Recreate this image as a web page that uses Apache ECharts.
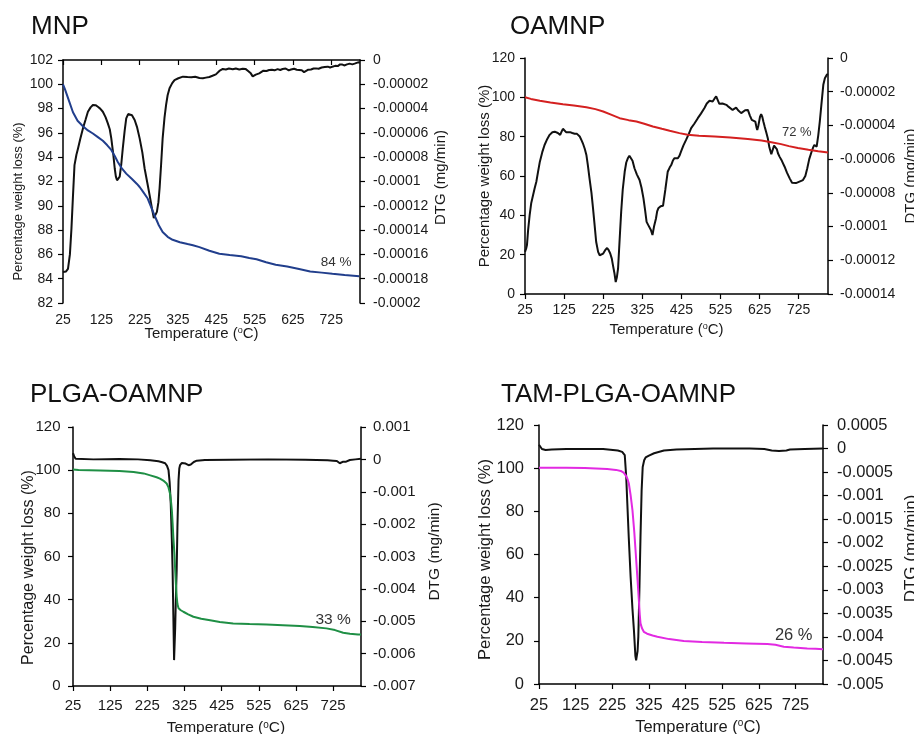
<!DOCTYPE html>
<html>
<head>
<meta charset="utf-8">
<title>TGA / DTG curves</title>
<script src="https://cdn.jsdelivr.net/npm/echarts@6/dist/echarts.min.js"></script>
<style>
  html, body { margin: 0; padding: 0; background: #ffffff; }
  #chart { width: 914px; height: 734px; }
</style>
</head>
<body>
<div id="chart"></div>
<script>
// ---------- MNP ----------
const mnpWtT = [25, 30, 40, 51, 63, 77, 90, 103, 116, 129, 140, 151, 160, 168, 178, 190, 205, 218, 225, 235, 246, 255, 264, 275, 285, 298, 311, 330, 350, 364, 381, 407, 433, 460, 490, 511, 530, 555, 580, 610, 641, 670, 700, 728, 760, 798];
const mnpWt = [100.0, 99.6, 98.7, 97.7, 97.0, 96.55, 96.2, 95.95, 95.65, 95.35, 95.0, 94.6, 94.1, 93.6, 93.1, 92.65, 92.2, 91.8, 91.55, 91.1, 90.6, 89.9, 89.2, 88.4, 87.85, 87.45, 87.2, 87.0, 86.85, 86.75, 86.6, 86.3, 86.06, 85.95, 85.85, 85.7, 85.6, 85.35, 85.15, 85.0, 84.8, 84.6, 84.5, 84.4, 84.3, 84.2];
const mnpDtgT = [25, 33, 38, 43, 47, 51, 55, 60, 64, 70, 77, 84, 90, 97, 103, 110, 116, 122, 129, 136, 142, 147, 151, 156, 160, 163, 166, 170, 173, 177, 181, 186, 190, 195, 199, 205, 212, 218, 225, 232, 238, 245, 251, 257, 262, 266, 270, 274, 277, 281, 285, 290, 294, 298, 303, 310, 316, 326, 338, 350, 360, 370, 381, 390, 398, 407, 415, 424, 433, 442, 450, 458, 468, 476, 485, 494, 502, 508, 515, 520, 524, 528, 532, 537, 541, 548, 556, 563, 570, 577, 585, 592, 598, 606, 614, 620, 628, 635, 641, 648, 654, 659, 665, 672, 679, 685, 692, 700, 708, 716, 722, 728, 735, 742, 748, 754, 760, 766, 773, 780, 786, 790, 795, 800];
const mnpDtg = [-0.0001745, -0.000174, -0.000172, -0.00016, -0.000139, -0.000112, -0.0000865, -0.000078, -0.000073, -0.000065, -0.0000563, -0.000049, -0.0000426, -0.000039, -0.0000371, -0.0000372, -0.0000385, -0.00004, -0.0000426, -0.000047, -0.0000522, -0.000057, -0.0000645, -0.000077, -0.0000893, -0.000096, -0.000099, -0.000098, -0.000096, -0.000086, -0.0000728, -0.000058, -0.000048, -0.0000445, -0.000044, -0.0000455, -0.0000494, -0.000055, -0.0000645, -0.000076, -0.0000893, -0.000101, -0.0001112, -0.000122, -0.00013, -0.000129, -0.000125, -0.000117, -0.0001057, -0.000086, -0.0000645, -0.000047, -0.000037, -0.000029, -0.0000233, -0.000019, -0.0000165, -0.000015, -0.0000137, -0.000014, -0.0000142, -0.0000138, -0.0000148, -0.000015, -0.0000145, -0.000014, -0.000013, -0.0000118, -0.000009, -0.0000074, -0.0000078, -0.000007, -0.0000076, -0.000007, -0.0000078, -0.0000072, -0.0000075, -0.000009, -0.000011, -0.0000135, -0.0000145, -0.000012, -0.0000135, -0.000011, -0.0000096, -0.0000088, -0.000009, -0.0000082, -0.000008, -0.0000085, -0.0000075, -0.0000082, -0.0000074, -0.000007, -0.0000085, -0.0000078, -0.0000072, -0.000008, -0.0000082, -0.0000085, -0.00001, -0.0000096, -0.000008, -0.0000078, -0.000007, -0.0000069, -0.0000072, -0.0000062, -0.0000058, -0.0000055, -0.0000062, -0.0000055, -0.0000048, -0.000005, -0.0000036, -0.0000038, -0.0000045, -0.0000036, -0.000003, -0.0000036, -0.000003, -0.0000022, -0.0000019, -0.000002];

// ---------- OAMNP ----------
const oaWtT = [25, 40, 63, 90, 122, 150, 182, 205, 225, 245, 267, 290, 310, 330, 352, 375, 395, 420, 441, 470, 510, 550, 595, 630, 655, 680, 700, 723, 750, 775, 800];
const oaWt = [100, 99.2, 98.3, 97.4, 96.5, 95.8, 95.0, 94.0, 92.8, 91.2, 89.4, 88.4, 87.7, 86.6, 85.2, 84.0, 83.0, 81.8, 81.0, 80.5, 80.1, 79.6, 78.8, 78.0, 77.2, 76.2, 75.2, 74.2, 73.3, 72.6, 72.0];
const oaDtgT = [25, 28, 30, 33, 37, 41, 46, 50, 54, 58, 63, 69, 75, 82, 88, 95, 101, 105, 109, 112, 115, 118, 122, 126, 130, 135, 140, 146, 152, 158, 165, 170, 173, 178, 182, 186, 190, 195, 199, 203, 207, 212, 216, 220, 225, 230, 235, 239, 243, 247, 250, 254, 257, 260, 263, 267, 271, 275, 280, 284, 288, 292, 295, 300, 305, 311, 318, 323, 328, 332, 336, 340, 343, 347, 351, 355, 360, 363, 366, 372, 378, 384, 390, 395, 399, 403, 407, 412, 416, 420, 424, 430, 437, 444, 450, 458, 467, 475, 484, 490, 497, 501, 505, 510, 514, 518, 522, 530, 540, 546, 550, 556, 560, 565, 570, 578, 583, 588, 595, 600, 605, 610, 614, 617, 619, 622, 626, 629, 632, 635, 638, 642, 646, 650, 655, 658, 662, 665, 669, 672, 676, 682, 689, 695, 702, 708, 713, 718, 723, 730, 736, 742, 747, 752, 758, 762, 765, 768, 771, 775, 779, 783, 788, 792, 797, 800];
const oaDtg = [-0.000115, -0.000113, -0.000111, -0.000102, -0.000093, -0.000086, -0.000081, -0.000077, -0.0000734, -0.000068, -0.0000615, -0.000056, -0.0000516, -0.000048, -0.0000456, -0.000044, -0.0000437, -0.000044, -0.0000445, -0.000045, -0.0000456, -0.000044, -0.000042, -0.0000428, -0.000044, -0.0000437, -0.000044, -0.0000445, -0.0000449, -0.000045, -0.0000466, -0.000049, -0.0000506, -0.000054, -0.0000575, -0.000064, -0.0000714, -0.00008, -0.0000892, -0.000099, -0.000109, -0.000115, -0.000117, -0.0001168, -0.000116, -0.000114, -0.0001127, -0.000114, -0.000116, -0.000119, -0.000123, -0.000128, -0.0001329, -0.00013, -0.000125, -0.000108, -0.0000913, -0.000078, -0.0000675, -0.000062, -0.0000595, -0.000058, -0.0000575, -0.000061, -0.0000654, -0.000069, -0.0000724, -0.000077, -0.0000833, -0.00009, -0.0000972, -0.000099, -0.0000992, -0.000102, -0.000105, -0.0001, -0.0000952, -0.000091, -0.0000892, -0.000088, -0.0000877, -0.000078, -0.0000675, -0.000065, -0.0000635, -0.000061, -0.0000595, -0.0000595, -0.0000595, -0.000058, -0.0000556, -0.000052, -0.0000486, -0.000045, -0.0000416, -0.000039, -0.0000357, -0.000033, -0.0000297, -0.000027, -0.0000254, -0.000025, -0.0000258, -0.000024, -0.0000228, -0.000025, -0.0000272, -0.000027, -0.0000278, -0.000029, -0.0000285, -0.0000308, -0.00003, -0.0000294, -0.000031, -0.0000327, -0.000032, -0.000031, -0.0000308, -0.000034, -0.0000367, -0.000036, -0.0000377, -0.000041, -0.0000427, -0.00004, -0.000035, -0.0000333, -0.000035, -0.000038, -0.0000407, -0.000044, -0.0000476, -0.000053, -0.0000571, -0.000056, -0.000052, -0.0000512, -0.000054, -0.0000565, -0.0000585, -0.000061, -0.0000645, -0.000068, -0.0000714, -0.000074, -0.000075, -0.0000742, -0.0000734, -0.000073, -0.0000724, -0.00007, -0.0000654, -0.00006, -0.0000556, -0.000053, -0.0000516, -0.000052, -0.0000526, -0.000046, -0.0000377, -0.000028, -0.0000159, -0.000012, -0.0000099, -0.0000095];

// ---------- PLGA-OAMNP ----------
const plWtT = [25, 40, 98, 150, 188, 215, 233, 250, 259, 268, 277, 282, 286, 289, 291, 293, 295, 298, 300, 302, 304, 306, 309, 315, 322, 335, 349, 370, 394, 420, 456, 500, 546, 590, 635, 670, 707, 730, 752, 770, 792, 800];
const plWt = [100.3, 100.1, 99.9, 99.6, 99.2, 98.5, 97.6, 96.7, 96.1, 95.2, 93.8, 92.0, 89.2, 85.0, 81.4, 75.5, 69.0, 61.0, 53.7, 47.0, 41.3, 38.0, 36.0, 35.1, 34.4, 33.2, 32.1, 31.2, 30.5, 29.7, 29.0, 28.7, 28.5, 28.2, 27.8, 27.3, 26.7, 25.9, 24.7, 24.2, 23.9, 23.9];
const plDtgT = [25, 28, 32, 36, 80, 150, 200, 233, 255, 265, 273, 278, 282, 285, 288, 291, 293, 295, 297, 298, 300, 302, 304, 306, 309, 311, 313, 318, 322, 328, 336, 342, 350, 358, 380, 450, 550, 650, 710, 725, 735, 740, 743, 747, 752, 756, 760, 770, 785, 800];
const plDtg = [0.00019, 0.0001, 0.00002, 0, 0, 0.00001, 0, -0.00003, -0.00006, -0.00009, -0.00012, -0.0002, -0.00033, -0.0007, -0.00136, -0.0025, -0.00342, -0.0048, -0.0062, -0.0062, -0.0052, -0.0042, -0.00342, -0.0021, -0.00064, -0.00028, -0.00018, -0.00011, -0.0001, -0.00013, -0.00018, -0.00016, -0.00008, -0.00004, -0.00002, -0.00001, 0, -0.00001, -0.00003, -0.00004, -0.00005, -0.00008, -0.00012, -0.00009, -0.00007, -0.00011, -0.00007, -0.00002, 0, 0.00002];

// ---------- TAM-PLGA-OAMNP ----------
const tamWtT = [25, 100, 150, 211, 235, 248, 256, 261, 266, 270, 275, 280, 285, 289, 294, 298, 300, 302, 306, 311, 320, 335, 348, 380, 420, 470, 530, 590, 648, 670, 693, 720, 757, 780, 800];
const tamWt = [100.2, 100.2, 100.1, 99.6, 99.2, 98.7, 97.9, 96.8, 95.2, 93.0, 87.5, 80.6, 70.5, 60.6, 48.0, 37.4, 32.0, 28.1, 25.8, 24.2, 23.3, 22.5, 21.9, 20.8, 19.9, 19.5, 19.1, 18.8, 18.5, 18.2, 17.3, 16.9, 16.5, 16.3, 16.1];
const tamDtgT = [25, 28, 33, 43, 60, 100, 200, 240, 252, 259, 263, 266, 270, 275, 280, 284, 288, 290, 292, 294, 296, 299, 302, 305, 308, 312, 316, 325, 339, 366, 400, 500, 600, 640, 660, 680, 700, 710, 750, 800];
const tamDtg = [0.00008, 0.00004, -0.00001, -0.00003, -0.00002, -0.00001, -0.00001, -0.00004, -0.00007, -0.00014, -0.0006, -0.00116, -0.0019, -0.00272, -0.0034, -0.00385, -0.0044, -0.0045, -0.0045, -0.0043, -0.004, -0.003, -0.00187, -0.0009, -0.00039, -0.00025, -0.00019, -0.00015, -0.0001, -0.00004, -0.00002, 0, 0, -0.00001, -0.00004, -0.00005, -0.00004, -0.00002, -0.00001, 0];

// Panel titles, residue annotations, axis ranges
const panelTitles = ['MNP', 'OAMNP', 'PLGA-OAMNP', 'TAM-PLGA-OAMNP'];
const residueText = ['84 %', '72 %', '33 %', '26 %'];
const residueAt = [[738, 85.35], [720, 82.2], [725, 30.9], [720, 22.7]];
const wtRange = [[82, 102, 2], [0, 120, 20], [0, 120, 20], [0, 120, 20]];
const dtgRange = [[-0.0002, 0, 0.00002], [-0.00014, 0, 0.00002], [-0.007, 0.001, 0.001], [-0.005, 0.0005, 0.0005]];
const tempRange = [25, 800, 100];

const FONT = '"Liberation Sans", Arial, sans-serif';
const INK = '#1a1a1a';

// Per-panel layout
const panels = [
  { grid: { left: 63, top: 60, width: 297, height: 243 }, color: '#213e8c',
    tick: 14, leftName: 13, rightName: 15, xName: 15, note: 13.5,
    xMargin: 10, xGap: 23, lMargin: 10, lGap: 38, rMargin: 13, rGap: 73,
    lShift: 20, rShift: -4, xShift: -10, title: [31, 14] },
  { grid: { left: 525, top: 58, width: 303, height: 236 }, color: '#d42020',
    tick: 14, leftName: 15, rightName: 15, xName: 15, note: 13,
    xMargin: 9, xGap: 28.5, lMargin: 10, lGap: 33, rMargin: 12, rGap: 75.5,
    lShift: 0, rShift: 0, xShift: -10, title: [510, 14] },
  { grid: { left: 73, top: 427, width: 288, height: 259 }, color: '#1f8f45',
    tick: 15, leftName: 16, rightName: 15.5, xName: 15.5, note: 15.5,
    xMargin: 12, xGap: 34, lMargin: 12.5, lGap: 36, rMargin: 12, rGap: 65.5,
    lShift: 11, rShift: -5, xShift: 9, title: [30, 382] },
  { grid: { left: 539, top: 425, width: 284, height: 259 }, color: '#e22ae2',
    tick: 16.5, leftName: 16.5, rightName: 17, xName: 16.5, note: 16.5,
    xMargin: 13, xGap: 34.5, lMargin: 15, lGap: 45, rMargin: 14, rGap: 80,
    lShift: 5, rShift: -6, xShift: 17, title: [501, 382] }
];

const weightSets = [[mnpWtT, mnpWt], [oaWtT, oaWt], [plWtT, plWt], [tamWtT, tamWt]];
const dtgSets = [[mnpDtgT, mnpDtg], [oaDtgT, oaDtg], [plDtgT, plDtg], [tamDtgT, tamDtg]];

function pairs(xs, ys) { return xs.map((x, i) => [x, ys[i]]); }
function tidy(v) { return String(parseFloat(Number(v).toPrecision(6))); }

// Shifting a centred label along its baseline by padding one side
function shiftPad(d) { return d >= 0 ? [0, 0, 0, 2 * d] : [0, -2 * d, 0, 0]; }

const axisLine = { show: true, lineStyle: { color: '#000', width: 1.5 } };
const axisTick = { show: true, inside: false, length: 5, lineStyle: { color: '#000', width: 1.2 } };

const option = {
  animation: false,
  backgroundColor: '#ffffff',
  textStyle: { fontFamily: FONT },
  title: panels.map((p, i) => ({
    text: panelTitles[i], left: p.title[0], top: p.title[1], padding: 0,
    textStyle: { fontFamily: FONT, fontSize: 26, fontWeight: 'normal', color: '#111' }
  })),
  // fixed plot rectangles; names near the page edge may run off it
  grid: panels.map(p => Object.assign({ containLabel: false, outerBoundsMode: 'none' }, p.grid)),
  xAxis: panels.map((p, i) => ({
    gridIndex: i, type: 'value', min: tempRange[0], max: tempRange[1], interval: tempRange[2],
    axisLine, axisTick, splitLine: { show: false },
    axisLabel: { fontSize: p.tick, color: INK, margin: p.xMargin, showMaxLabel: false, fontFamily: FONT },
    name: 'Temperature ({s|o}C)', nameLocation: 'middle', nameGap: p.xGap, nameMoveOverlap: false,
    nameTextStyle: {
      fontSize: p.xName, color: INK, fontFamily: FONT, padding: shiftPad(p.xShift),
      rich: { s: { fontSize: Math.round(p.xName * 0.62), verticalAlign: 'top', lineHeight: p.xName * 0.9, fontFamily: FONT, color: INK } }
    }
  })),
  yAxis: [].concat(...panels.map((p, i) => [
    {
      gridIndex: i, type: 'value', position: 'left',
      min: wtRange[i][0], max: wtRange[i][1], interval: wtRange[i][2],
      axisLine, axisTick, splitLine: { show: false },
      axisLabel: { fontSize: p.tick, color: INK, margin: p.lMargin, fontFamily: FONT },
      name: 'Percentage weight loss (%)', nameLocation: 'middle', nameRotate: 90, nameGap: p.lGap,
      nameMoveOverlap: false,
      nameTextStyle: { fontSize: p.leftName, color: INK, fontFamily: FONT, padding: shiftPad(-p.lShift) }
    },
    {
      gridIndex: i, type: 'value', position: 'right',
      min: dtgRange[i][0], max: dtgRange[i][1], interval: dtgRange[i][2],
      axisLine, axisTick, splitLine: { show: false },
      axisLabel: { fontSize: p.tick, color: INK, margin: p.rMargin, fontFamily: FONT, formatter: tidy },
      name: 'DTG (mg/min)', nameLocation: 'middle', nameRotate: 90, nameGap: p.rGap,
      nameMoveOverlap: false,
      nameTextStyle: { fontSize: p.rightName, color: INK, fontFamily: FONT, padding: shiftPad(-p.rShift) }
    }
  ])),
  series: [].concat(...panels.map((p, i) => [
    {
      type: 'line', name: panelTitles[i] + ' DTG', xAxisIndex: i, yAxisIndex: 2 * i + 1,
      data: pairs(dtgSets[i][0], dtgSets[i][1]), showSymbol: false, symbol: 'none',
      lineStyle: { color: '#111', width: 2 }, z: 2
    },
    {
      type: 'line', name: panelTitles[i] + ' weight', xAxisIndex: i, yAxisIndex: 2 * i,
      data: pairs(weightSets[i][0], weightSets[i][1]), showSymbol: false, symbol: 'none',
      lineStyle: { color: p.color, width: 2 }, z: 3,
      markPoint: {
        symbol: 'circle', symbolSize: 0, silent: true,
        label: { show: true, position: 'inside', formatter: residueText[i], color: '#333', fontSize: p.note, fontFamily: FONT },
        data: [{ coord: residueAt[i] }]
      }
    }
  ]))
};

const chart = echarts.init(document.getElementById('chart'), null, { renderer: 'canvas' });
chart.setOption(option);
</script>
</body>
</html>
